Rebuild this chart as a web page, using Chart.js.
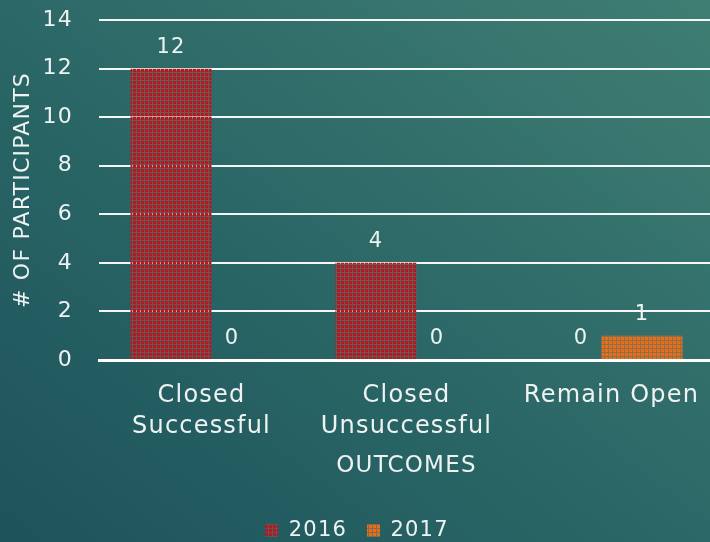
<!DOCTYPE html>
<html>
<head>
<meta charset="utf-8">
<script src="https://cdn.jsdelivr.net/npm/chart.js@4"></script>
<style>
  html, body { margin: 0; padding: 0; overflow: hidden; }
  body {
    width: 710px; height: 542px;
    background: linear-gradient(to top right, #1d535b 0%, #2a6666 45%, #3f7e73 100%);
  }
  #wrap { width: 716px; height: 551px; }
</style>
</head>
<body>
<div id="wrap"><canvas id="chart"></canvas></div>
<script>
// data
const categories = [['Closed', 'Successful'], ['Closed', 'Unsuccessful'], 'Remain Open'];
const values2016 = [12, 4, 0];
const values2017 = [0, 0, 1];
const seriesNames = ['2016', '2017'];

const FONT = '"DejaVu Sans", sans-serif';
const TEXT = '#eef3f2';

// small checkered fill like the original bars
const makePattern = (base, line) => {
    const c = document.createElement('canvas');
    c.width = 4; c.height = 4;
    const g = c.getContext('2d');
    g.fillStyle = base;
    g.fillRect(0, 0, 4, 4);
    g.clearRect(0, 0, 4, 1);
    g.clearRect(0, 0, 1, 4);
    g.fillStyle = line;
    g.fillRect(0, 0, 4, 1);
    g.fillRect(0, 1, 1, 3);
    return g.createPattern(c, 'repeat');
};

const redFill = makePattern('#b31a20', 'rgba(160,75,78,0.55)');
const orangeFill = makePattern('#ee6c14', 'rgba(200,115,60,0.6)');

// wider tracking, the original font is a wide geometric one
const tracking = {
    id: 'tracking',
    beforeLayout(chart) { chart.ctx.letterSpacing = '1.2px'; },
    beforeDraw(chart) { chart.ctx.letterSpacing = '1.2px'; }
};

// value labels above the bars
const valueLabels = {
    id: 'valueLabels',
    afterDatasetsDraw(chart) {
        const ctx = chart.ctx;
        ctx.save();
        ctx.fillStyle = TEXT;
        ctx.font = '21px ' + FONT;
        ctx.textAlign = 'center';
        ctx.textBaseline = 'middle';
        chart.data.datasets.forEach((ds, i) => {
            chart.getDatasetMeta(i).data.forEach((bar, j) => {
                ctx.fillText(String(ds.data[j]), bar.x, bar.y - 21);
            });
        });
        ctx.restore();
    }
};

new Chart(document.getElementById('chart'), {
    type: 'bar',
    data: {
        labels: categories,
        datasets: [
            { label: seriesNames[0], data: values2016, backgroundColor: redFill, borderWidth: 0 },
            { label: seriesNames[1], data: values2017, backgroundColor: orangeFill, borderWidth: 0 }
        ]
    },
    options: {
        responsive: true,
        maintainAspectRatio: false,
        animation: false,
        layout: { padding: { top: 20, left: 0, right: 2, bottom: 0 } },
        // bars of a group overlap a little, like the source
        datasets: { bar: { categoryPercentage: 0.595, barPercentage: 1.328 } },
        scales: {
            x: {
                grid: { display: false },
                border: { color: '#ffffff', width: 3 },
                ticks: { color: TEXT, font: { family: FONT, size: 24, lineHeight: 1.3 }, padding: 12, maxRotation: 0 },
                title: { display: true, text: 'OUTCOMES', color: TEXT, font: { family: FONT, size: 23 }, padding: { top: 0, bottom: 20 } },
                afterFit(scale) { scale.height = 140; }
            },
            y: {
                min: 0, max: 14,
                ticks: { stepSize: 2, color: TEXT, font: { family: FONT, size: 22 }, padding: 26 },
                grid: { color: '#f4f7f7', lineWidth: 2, drawTicks: false },
                border: { display: false },
                title: { display: true, text: '# OF PARTICIPANTS', color: TEXT, font: { family: FONT, size: 22 }, padding: { top: 10, bottom: 0 } },
                afterFit(scale) {
                    scale.width = 99;
                    // tick padding would otherwise push the plot down
                    scale.paddingTop = 0;
                    scale.paddingBottom = 0;
                }
            }
        },
        plugins: {
            tooltip: { enabled: false },
            legend: {
                position: 'bottom',
                labels: { color: TEXT, font: { family: FONT, size: 21 }, boxWidth: 13, boxHeight: 13, padding: 20 }
            }
        }
    },
    plugins: [tracking, valueLabels]
});
</script>
</body>
</html>
